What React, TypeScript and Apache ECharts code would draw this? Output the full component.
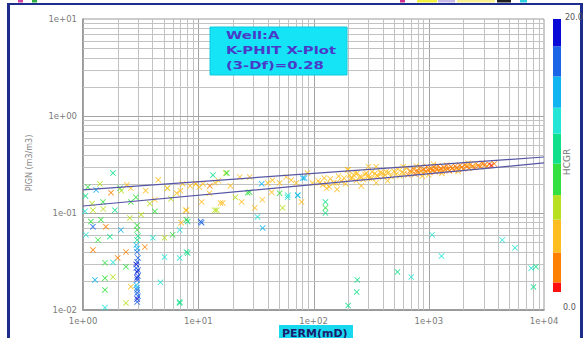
import React, { useEffect, useRef } from "react";
import * as echarts from "echarts";

// ---------- data ----------
const xTickLabels = ["1e+00", "1e+01", "1e+02", "1e+03", "1e+04"];
const yTickLabels = ["1e-02", "1e-01", "1e+00", "1e+01"];

// HCGR colour classes (low -> high)
const hcgrBreaks = [0, 0.7, 2.9, 5.3, 7.1, 9.4, 11.6, 13.5, 15.8, 18, 20];
const hcgrColors = ["#ff1010", "#ff8000", "#ffbe20", "#b8e020", "#34e040", "#10e08a", "#24e6d6", "#10b4f0", "#1a64e8", "#0a0ad8"];

// fitted lines [perm, phit]
const upperLine = [[1, 0.173], [10000, 0.378]];
const lowerLine = [[1, 0.118], [10000, 0.328]];

// [perm, phit, hcgr]
const nearLineLowPerm = [
  [1.1, 0.185, 7.5], [1.4, 0.2, 5.5], [2.4, 0.195, 4.8], [3.5, 0.17, 3.5], [4.5, 0.22, 5], [5.4, 0.18, 5.5],
  [6.5, 0.16, 3], [7.3, 0.2, 5.2], [8.5, 0.19, 4.5], [9.5, 0.2, 3.2], [5.8, 0.14, 7], [3.8, 0.125, 6.5],
  [2.6, 0.13, 8], [1.05, 0.15, 10], [1.2, 0.125, 5.8], [9.5, 0.2, 3], [12.6, 0.19, 2.8], [14, 0.205, 4],
  [17.3, 0.258, 5.5], [15.6, 0.127, 3.5], [13.9, 0.107, 6.5], [10.2, 0.185, 3.5], [7.0, 0.17, 4.5], [5.4, 0.18, 5],
  [11, 0.2, 5], [12.5, 0.16, 3], [15, 0.215, 5], [19, 0.19, 3], [21, 0.145, 6.5],
];

const scatterLowPerm = [
  [1.82, 0.258, 10.5], [1.3, 0.173, 14.5], [2.09, 0.18, 8.5], [1.75, 0.162, 2.5], [2.15, 0.17, 5.5], [2.6, 0.18, 3.5],
  [2.88, 0.145, 9], [1.49, 0.13, 8.5], [1.22, 0.107, 7], [1.5, 0.11, 6.2], [1.89, 0.107, 9.5], [1.04, 0.104, 13],
  [4.2, 0.104, 8.5], [3.2, 0.096, 5.5], [4.2, 0.137, 4.5], [1.17, 0.0815, 9], [1.43, 0.0853, 8.5], [1.22, 0.0722, 16.5],
  [1.58, 0.0722, 2.5], [2.55, 0.089, 6.5], [1.06, 0.0597, 13], [1.35, 0.0527, 9], [1.71, 0.057, 9.5], [2.13, 0.0668, 13.5],
  [3.44, 0.0446, 2.5], [4.04, 0.0555, 13], [5.1, 0.0555, 7], [6, 0.0597, 9], [6.9, 0.0668, 13], [7.1, 0.0795, 3.5],
  [8.1, 0.0815, 9.5], [10.5, 0.0815, 17], [7.8, 0.107, 3], [1.22, 0.0416, 2.5], [2.36, 0.0396, 2.5], [1.55, 0.0307, 9],
  [2.0, 0.0344, 2.5], [1.82, 0.031, 13], [2.36, 0.028, 8.5], [5.1, 0.0351, 13], [6.9, 0.0344, 13], [8.1, 0.0387, 9.5],
  [1.27, 0.0204, 13.5], [1.55, 0.0213, 9], [1.82, 0.0219, 7], [2.6, 0.0174, 3], [1.55, 0.0161, 9], [4.7, 0.0193, 13],
  [2.36, 0.0118, 5.5], [1.55, 0.0106, 12.5], [6.9, 0.0118, 9.5], [7.9, 0.0396, 10.5], [6.9, 0.0121, 9.5],
];

const columnPoints = [
  [2.95, 0.0745, 8.5], [2.95, 0.0668, 9], [3.0, 0.0579, 9.5], [2.95, 0.0527, 10], [2.9, 0.0468, 13.5], [2.95, 0.043, 15],
  [2.95, 0.0396, 16.5], [3.0, 0.0344, 17], [2.95, 0.0313, 16], [2.9, 0.0295, 18], [2.9, 0.0271, 17.5], [3.0, 0.0258, 16],
  [2.95, 0.0247, 19], [3.0, 0.0224, 17], [2.95, 0.0215, 18.5], [2.95, 0.0204, 16.5], [2.9, 0.0181, 14], [2.95, 0.017, 15],
  [2.95, 0.0161, 17.5], [2.95, 0.015, 16.5], [3.0, 0.0139, 16], [2.95, 0.013, 18], [2.95, 0.0121, 17],
];

const midPermPoints = [
  [13.4, 0.246, 11], [17.7, 0.258, 8], [10.7, 0.13, 3], [7.9, 0.107, 5], [7.9, 0.0853, 9], [10.7, 0.0795, 16.5],
  [14.5, 0.107, 7], [16.3, 0.127, 3], [23.8, 0.13, 3], [26.8, 0.162, 8], [35.5, 0.2, 14.5], [32.7, 0.0912, 13],
  [36.2, 0.07, 15], [30.9, 0.113, 3.5], [43.3, 0.164, 3.5], [50.8, 0.16, 7.5], [54, 0.113, 7], [59.6, 0.145, 13],
  [72.9, 0.152, 13], [78.7, 0.13, 3], [83.5, 0.229, 14.5], [127, 0.13, 9.5], [127, 0.113, 9], [127, 0.1, 9.5],
  [88.7, 0.258, 3.5], [130, 0.18, 3],
  [22.9, 0.235, 3], [27.9, 0.235, 5], [40, 0.204, 3], [44, 0.218, 5], [50.8, 0.204, 5], [58, 0.235, 4.5],
  [64, 0.218, 3], [71, 0.204, 5], [80.5, 0.229, 15], [98, 0.204, 3], [113, 0.204, 3.5], [124, 0.229, 3],
  [130, 0.2, 5], [137, 0.186, 3], [158, 0.204, 5], [184, 0.229, 3], [197, 0.279, 3], [205, 0.245, 5],
  [217, 0.229, 3], [240, 0.258, 3], [260, 0.235, 3.5], [287, 0.258, 5], [305, 0.229, 3], [323, 0.266, 5],
  [356, 0.245, 3], [393, 0.258, 3], [428, 0.266, 5], [27.9, 0.164, 8], [36, 0.137, 5], [60, 0.152, 13], [73, 0.152, 13.5],
  [110, 0.215, 4.8], [120, 0.195, 4.1], [140, 0.225, 5.0], [150, 0.205, 3.9], [165, 0.24, 4.6], [175, 0.212, 4.2],
  [190, 0.2, 5.2], [210, 0.228, 3.7], [225, 0.245, 4.9], [235, 0.215, 4.3], [250, 0.235, 3.9], [270, 0.222, 4.7],
  [280, 0.25, 3.5], [300, 0.24, 4.4], [320, 0.228, 5.1], [340, 0.255, 3.8], [360, 0.238, 4.6], [380, 0.262, 4.0],
  [400, 0.235, 3.4], [160, 0.175, 4.5], [260, 0.19, 4.8], [350, 0.205, 5.0], [440, 0.215, 4.4], [200, 0.28, 4.6],
  [300, 0.3, 5.0], [230, 0.26, 3.6], [350, 0.3, 3.2],
];

const densePoints = [
  [420, 0.245, 4.2], [450, 0.262, 3.8], [470, 0.238, 4.5], [500, 0.27, 3.2], [520, 0.25, 4.0], [540, 0.283, 4.6],
  [560, 0.242, 3.5], [590, 0.265, 2.9], [610, 0.255, 3.6], [640, 0.29, 4.1], [660, 0.248, 2.7], [690, 0.272, 2.4],
  [710, 0.26, 3.3], [740, 0.285, 2.6], [760, 0.252, 2.2], [790, 0.276, 2.8], [810, 0.262, 1.9], [840, 0.295, 2.5],
  [860, 0.27, 2.1], [890, 0.258, 2.9], [910, 0.282, 1.8], [940, 0.268, 2.3], [960, 0.3, 2.7], [990, 0.276, 1.6],
  [1020, 0.262, 2.2], [1050, 0.288, 1.9], [1080, 0.272, 2.5], [1110, 0.297, 2.1], [1140, 0.266, 1.4], [1170, 0.283, 2.0],
  [1200, 0.305, 2.6], [1240, 0.275, 1.7], [1270, 0.29, 2.3], [1310, 0.268, 2.8], [1350, 0.296, 1.5], [1390, 0.28, 2.0],
  [1430, 0.31, 2.4], [1470, 0.285, 1.8], [1510, 0.272, 2.6], [1560, 0.3, 1.6], [1600, 0.288, 2.2], [1650, 0.278, 1.9],
  [1700, 0.305, 2.5], [1750, 0.292, 1.7], [1810, 0.282, 2.1], [1870, 0.31, 2.7], [1930, 0.296, 2.0], [2000, 0.286, 1.6],
  [2070, 0.315, 2.3], [2140, 0.3, 1.9], [2220, 0.29, 2.6], [2300, 0.318, 2.2], [2390, 0.303, 1.8], [2480, 0.295, 2.4],
  [2580, 0.322, 2.9], [2690, 0.308, 2.0], [2800, 0.3, 1.2], [2920, 0.326, 2.7], [3050, 0.312, 0.9], [3200, 0.305, 1.5],
  [3350, 0.318, 2.3], [3500, 0.31, 0.6], [3700, 0.322, 1.8], [1000, 0.248, 3.1], [1300, 0.256, 3.4], [780, 0.305, 3.9],
  [600, 0.3, 4.4], [1800, 0.268, 3.0], [2200, 0.325, 4.2], [1100, 0.318, 3.6], [880, 0.24, 4.5],
];

const sparseHighPerm = [
  [1070, 0.0597, 13], [1290, 0.036, 12.5], [535, 0.0247, 11], [705, 0.0219, 12.5], [4340, 0.0527, 12.5],
  [5600, 0.0437, 13], [7750, 0.027, 13], [8500, 0.028, 11], [8100, 0.0173, 11], [240, 0.0204, 11],
  [237, 0.0153, 10.5], [200, 0.0111, 9.5],
];

const titleLines = ["Well:A", "K-PHIT X-Plot", "(3-Df)=0.28"];

// ---------- chart ----------
const X_MIN = 1, X_MAX = 10000, Y_MIN = 0.01, Y_MAX = 10;

function gridLines() {
  const out: number[][] = [];
  for (let k = 0; k < 4; k++) for (let m = 1; m < 10; m++) out.push([m * Math.pow(10, k), 1, 0, m === 1 ? 1 : 0]);
  for (let k = -2; k < 1; k++) for (let m = 1; m < 10; m++) out.push([1, m * Math.pow(10, k), 1, m === 1 ? 1 : 0]);
  return out;
}

export default function App() {
  const ref = useRef<HTMLDivElement>(null);
  useEffect(() => {
    if (!ref.current) return;
    const chart = echarts.init(ref.current, undefined, { renderer: "svg" });
    const allPoints = [...nearLineLowPerm, ...scatterLowPerm, ...columnPoints, ...midPermPoints, ...densePoints, ...sparseHighPerm];
    const pieces = hcgrColors.map((c, i) => ({ gte: hcgrBreaks[i], lt: hcgrBreaks[i + 1], color: c }));

    const barTop = 19, barBottom = 292, barX = 553, barW = 8;
    const maxH = hcgrBreaks[hcgrBreaks.length - 1];
    const barRects = hcgrColors.map((c, i) => {
      const yTop = barBottom - (hcgrBreaks[i + 1] / maxH) * (barBottom - barTop);
      const yBot = barBottom - (hcgrBreaks[i] / maxH) * (barBottom - barTop);
      return { type: "rect", shape: { x: barX, y: yTop, width: barW, height: yBot - yTop }, style: { fill: c } };
    });

    const titleTexts = titleLines.map((t, i) => ({
      type: "text", x: 226, y: 35 + i * 15, scaleX: 1.35, originX: 0, z: 12,
      style: { text: t, font: "bold 11px DejaVu Sans", fill: "#4a3ac8", verticalAlign: "middle", align: "left" },
    }));

    const labelStyle = { color: "#7a7a7a", fontSize: 8.5, fontFamily: "DejaVu Sans" };
    const option: any = {
      animation: false,
      backgroundColor: "#ffffff",
      grid: { left: 83, right: 40, top: 19, bottom: 28, show: true, borderColor: "#9a9a9a", borderWidth: 1 },
      xAxis: {
        type: "log", logBase: 10, min: X_MIN, max: X_MAX,
        axisLine: { show: true, lineStyle: { color: "#8a8a8a", width: 1.5 } },
        axisTick: { show: false }, splitLine: { show: false },
        axisLabel: { ...labelStyle, margin: 6, formatter: (v: number) => xTickLabels[Math.round(Math.log10(v))] },
      },
      yAxis: {
        type: "log", logBase: 10, min: Y_MIN, max: Y_MAX,
        axisLine: { show: true, lineStyle: { color: "#8a8a8a", width: 1.5 } },
        axisTick: { show: false }, splitLine: { show: false },
        axisLabel: { ...labelStyle, margin: 6, formatter: (v: number) => yTickLabels[Math.round(Math.log10(v)) + 2] },
      },
      visualMap: { type: "piecewise", show: false, dimension: 2, seriesIndex: 1, pieces },
      series: [
        {
          type: "custom", silent: true, z: 1, clip: true,
          encode: { x: 0, y: 1 },
          data: gridLines(),
          renderItem: (_p: any, api: any) => {
            const dir = api.value(2);
            const major = api.value(3) === 1;
            let p1, p2;
            if (dir === 0) { const v = api.value(0); p1 = api.coord([v, Y_MIN]); p2 = api.coord([v, Y_MAX]); }
            else { const v = api.value(1); p1 = api.coord([X_MIN, v]); p2 = api.coord([X_MAX, v]); }
            const sx = dir === 0 ? Math.round(p1[0]) + 0.5 : p1[0];
            const sy = dir === 1 ? Math.round(p1[1]) + 0.5 : p1[1];
            return {
              type: "line",
              shape: dir === 0 ? { x1: sx, y1: p1[1], x2: sx, y2: p2[1] } : { x1: p1[0], y1: sy, x2: p2[0], y2: sy },
              style: { stroke: major ? "#a4a4a4" : "#c2c2c2", lineWidth: 1 },
            };
          },
        },
        {
          type: "scatter", z: 3, data: allPoints,
          symbol: "path://M0,1L1,0L5,4L9,0L10,1L6,5L10,9L9,10L5,6L1,10L0,9L4,5Z",
          symbolSize: 6, itemStyle: { opacity: 0.88 },
        },
        { type: "line", z: 4, data: upperLine, showSymbol: false, silent: true, lineStyle: { color: "#5656a6", width: 1.2 } },
        { type: "line", z: 4, data: lowerLine, showSymbol: false, silent: true, lineStyle: { color: "#5656a6", width: 1.2 } },
      ],
      graphic: [
        // outer frame
        { type: "rect", shape: { x: 7, y: 3, width: 3, height: 335 }, style: { fill: "#1c2d8c" } },
        { type: "rect", shape: { x: 7, y: 3, width: 575, height: 2 }, style: { fill: "#1c2d8c" } },
        { type: "rect", shape: { x: 580, y: 3, width: 3, height: 335 }, style: { fill: "#1c2d8c" } },
        // toolbar remnants
        { type: "rect", shape: { x: 18, y: 0, width: 5, height: 2.5 }, style: { fill: "#d040a0" } },
        { type: "rect", shape: { x: 32, y: 0, width: 5, height: 2.5 }, style: { fill: "#30b040" } },
        { type: "rect", shape: { x: 400, y: 0, width: 5, height: 2.5 }, style: { fill: "#d03090" } },
        { type: "rect", shape: { x: 417, y: 0, width: 20, height: 2.5 }, style: { fill: "#f0f040" } },
        { type: "rect", shape: { x: 438, y: 0, width: 17, height: 2.5 }, style: { fill: "#c8b8e8" } },
        { type: "rect", shape: { x: 457, y: 0, width: 38, height: 2.5 }, style: { fill: "#f8f090" } },
        { type: "rect", shape: { x: 497, y: 0, width: 14, height: 2.5 }, style: { fill: "#202020" } },
        { type: "rect", shape: { x: 520, y: 0, width: 7, height: 2.5 }, style: { fill: "#30d0e0" } },
        // title box
        { type: "rect", z: 10, shape: { x: 210, y: 27, width: 137, height: 48 }, style: { fill: "#14e4f6", stroke: "#10c8dc", lineWidth: 1 } },
        ...titleTexts,
        // axis titles
        { type: "text", x: 29, y: 163, rotation: Math.PI / 2, style: { text: "PIGN (m3/m3)", font: "8px DejaVu Sans", fill: "#858585", align: "center", verticalAlign: "middle" } },
        { type: "rect", shape: { x: 279, y: 325, width: 74, height: 14 }, style: { fill: "#18d8f0" } },
        { type: "text", x: 282, y: 333, style: { text: "PERM(mD)", font: "bold 11px DejaVu Sans", fill: "#1c1c6c", verticalAlign: "middle" } },
        // colour bar
        ...barRects,
        { type: "text", x: 565, y: 17, style: { text: "20.0", font: "8px DejaVu Sans", fill: "#555", verticalAlign: "middle" } },
        { type: "text", x: 563, y: 307, style: { text: "0.0", font: "8px DejaVu Sans", fill: "#555", verticalAlign: "middle" } },
        { type: "text", x: 567, y: 162, rotation: Math.PI / 2, style: { text: "HCGR", font: "9px DejaVu Sans", fill: "#777", align: "center", verticalAlign: "middle" } },
      ],
    };
    chart.setOption(option);
    return () => chart.dispose();
  }, []);
  return <div ref={ref} style={{ position: "absolute", left: 0, top: 0, width: 584, height: 338 }} />;
}
